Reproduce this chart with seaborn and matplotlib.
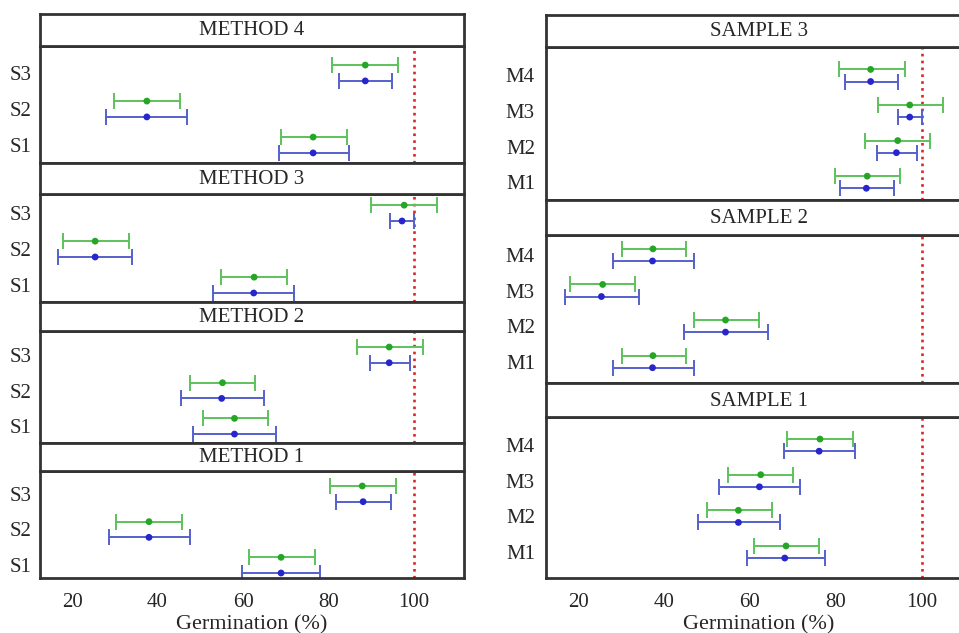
import matplotlib
matplotlib.use("Agg")
import matplotlib.pyplot as plt
import seaborn as sns
import pandas as pd

# panel titles and category labels (categories listed bottom to top)
method_titles = ["METHOD 4", "METHOD 3", "METHOD 2", "METHOD 1"]
sample_titles = ["SAMPLE 3", "SAMPLE 2", "SAMPLE 1"]
sample_cats = ["S1", "S2", "S3"]
method_cats = ["M1", "M2", "M3", "M4"]

# [mean, low, high] for each category, bottom to top
m4_green = [[76.4, 69.0, 84.3], [37.5, 29.8, 45.2], [88.6, 80.9, 96.2]]
m4_blue = [[76.4, 68.3, 84.9], [37.5, 28.0, 47.0], [88.6, 82.5, 94.9]]
m3_green = [[62.6, 54.9, 70.3], [25.4, 17.9, 33.3], [97.7, 90.0, 105.3]]
m3_blue = [[62.5, 53.0, 72.0], [25.4, 16.8, 34.0], [97.2, 94.5, 99.9]]
m2_green = [[58.0, 50.6, 65.9], [55.2, 47.5, 62.9], [94.2, 86.7, 102.0]]
m2_blue = [[58.0, 48.4, 67.8], [55.0, 45.4, 65.0], [94.2, 89.6, 99.0]]
m1_green = [[68.9, 61.4, 76.8], [38.0, 30.2, 45.7], [87.9, 80.4, 95.8]]
m1_blue = [[68.9, 59.8, 78.0], [38.0, 28.6, 47.6], [88.1, 81.8, 94.6]]

s3_green = [[87.3, 79.7, 94.9], [94.4, 86.8, 102.0], [97.2, 89.8, 105.0], [88.1, 80.8, 96.0]]
s3_blue = [[87.1, 80.9, 93.6], [94.1, 89.6, 99.0], [97.2, 94.4, 100.0], [88.1, 82.1, 94.4]]
s2_green = [[37.4, 30.1, 45.2], [54.3, 46.9, 62.1], [25.7, 18.0, 33.3], [37.4, 30.1, 45.2]]
s2_blue = [[37.3, 28.1, 46.9], [54.3, 44.7, 64.1], [25.4, 16.9, 34.1], [37.3, 28.1, 46.9]]
s1_green = [[68.4, 60.9, 76.1], [57.3, 50.0, 65.2], [62.5, 54.9, 70.1], [76.3, 68.7, 84.0]]
s1_blue = [[68.1, 59.2, 77.4], [57.3, 47.9, 67.0], [62.2, 52.9, 71.7], [76.1, 68.0, 84.4]]

x_ticks = [20, 40, 60, 80, 100]
ref_value = 100
x_label = "Germination (%)"

line_colors = {"green": "#5cc25c", "blue": "#5560cc"}
dot_colors = {"green": "#26a626", "blue": "#2626cc"}
frame_color = "#333333"

W, H = 959, 633


def rect(x0, y0, x1, y1):
    # pixel box (top-left origin) -> figure fraction
    return [x0 / W, 1 - y1 / H, (x1 - x0) / W, (y1 - y0) / H]


def style_frame(ax):
    for sp in ax.spines.values():
        sp.set_visible(True)
        sp.set_color(frame_color)
        sp.set_linewidth(2)


def draw_panel(fig, box, strip_box, title, cats, green, blue, ylim, off, show_x, ypad):
    ax = fig.add_axes(rect(*box))
    rows = []
    for name, vals, sign in [("green", green, 1), ("blue", blue, -1)]:
        for i, cat in enumerate(cats):
            rows.append(dict(cat=cat, pos=i + 1 + sign * off, series=name,
                             mid=vals[i][0], lo=vals[i][1], hi=vals[i][2]))
    df = pd.DataFrame(rows)
    for name, d in df.groupby("series"):
        ax.errorbar(d["mid"], d["pos"], xerr=[d["mid"] - d["lo"], d["hi"] - d["mid"]],
                    fmt="none", ecolor=line_colors[name], elinewidth=1.4,
                    capsize=6, capthick=1.4, zorder=2)
    sns.scatterplot(data=df, x="mid", y="pos", hue="series", palette=dot_colors,
                    s=24, edgecolor="none", legend=False, ax=ax, zorder=3)
    ax.axvline(ref_value, color="#e02424", ls=(0, (1, 1.6)), lw=1.9, zorder=1)
    ax.set_xlim(12.5, 111.7)
    ax.set_ylim(*ylim)
    ax.set_yticks(range(1, len(cats) + 1))
    ax.set_yticklabels(cats, fontsize=15)
    ax.tick_params(axis="y", length=0, pad=ypad)
    ax.set_xticks(x_ticks)
    if show_x:
        ax.tick_params(axis="x", length=6, width=1.5, color=frame_color,
                       labelsize=15, pad=5, direction="out")
        ax.set_xlabel(x_label, fontsize=16, labelpad=2)
    else:
        ax.tick_params(axis="x", length=0, labelbottom=False)
        ax.set_xlabel("")
    ax.set_ylabel("")
    style_frame(ax)

    sax = fig.add_axes(rect(*strip_box))
    sax.set_xticks([])
    sax.set_yticks([])
    sax.text(0.5, 0.47, title, ha="center", va="center", fontsize=15,
             transform=sax.transAxes)
    style_frame(sax)


def main():
    sns.set_style("white")
    plt.rcParams["font.family"] = ["Liberation Serif", "DejaVu Serif"]

    fig = plt.figure(figsize=(W / 100, H / 100), dpi=100)

    # left column: methods
    lx0, lx1 = 40, 464
    left_boxes = [(14, 46, 163), (163, 194, 302), (302, 331, 443), (443, 471, 578)]
    left_ylims = [(0.5, 3.75), (0.53, 3.53), (0.53, 3.67), (0.64, 3.64)]
    left_data = [(m4_green, m4_blue), (m3_green, m3_blue), (m2_green, m2_blue), (m1_green, m1_blue)]
    for k, (title, (s0, p0, p1), yl, (g, b)) in enumerate(zip(method_titles, left_boxes, left_ylims, left_data)):
        draw_panel(fig, (lx0, p0, lx1, p1), (lx0, s0, lx1, p0), title, sample_cats,
                   g, b, yl, 0.22, k == len(method_titles) - 1, 6)

    # right column: samples (runs past the right edge like the original)
    rx0, rx1 = 546, 972
    right_boxes = [(15, 47, 200), (200, 235, 383), (383, 417, 578)]
    right_ylims = [(0.5, 4.8), (0.4, 4.56), (0.27, 4.79)]
    right_data = [(s3_green, s3_blue), (s2_green, s2_blue), (s1_green, s1_blue)]
    for k, (title, (s0, p0, p1), yl, (g, b)) in enumerate(zip(sample_titles, right_boxes, right_ylims, right_data)):
        draw_panel(fig, (rx0, p0, rx1, p1), (rx0, s0, rx1, p0), title, method_cats,
                   g, b, yl, 0.17, k == len(sample_titles) - 1, 8)

    fig.savefig("out.png", dpi=100)


if __name__ == "__main__":
    main()
